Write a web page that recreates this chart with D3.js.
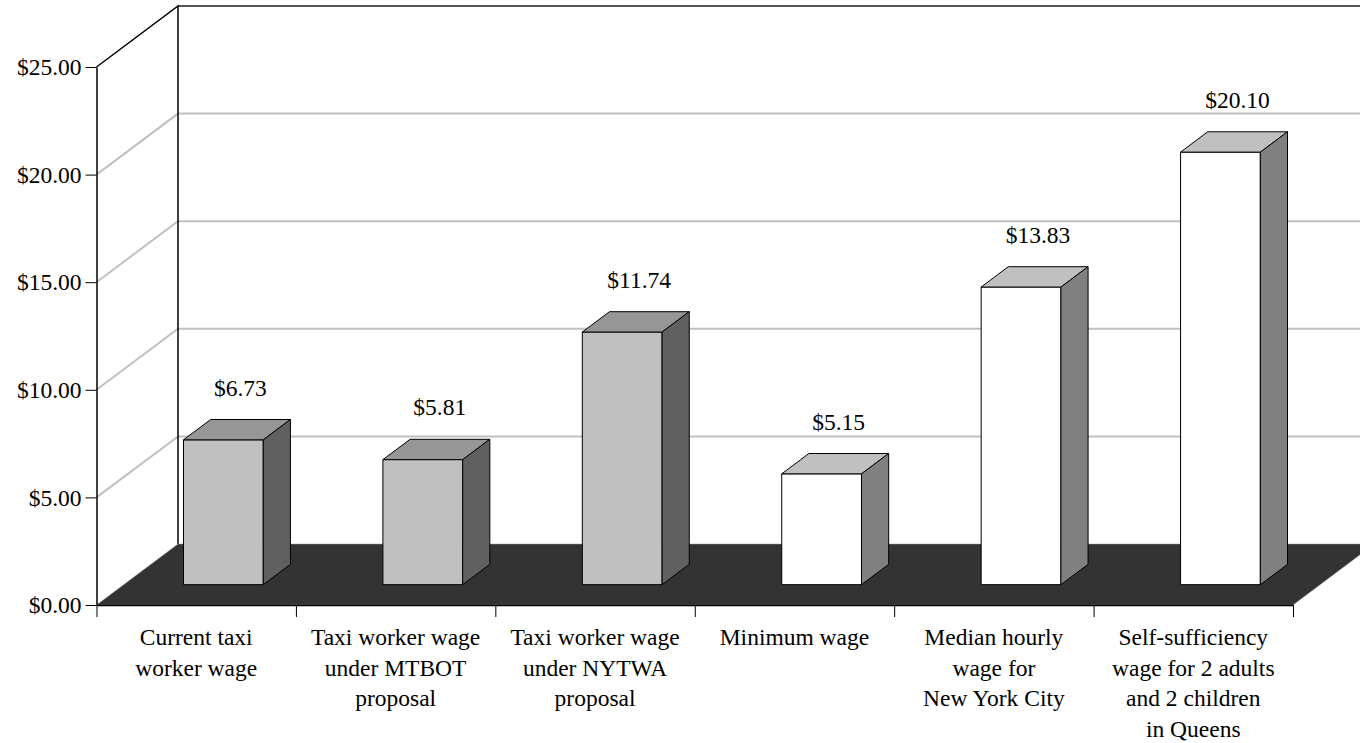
<!DOCTYPE html>
<html>
<head>
<meta charset="utf-8">
<script src="https://cdn.jsdelivr.net/npm/d3@7"></script>
<style>
  body { margin: 0; background: #fff; }
  svg { display: block; font-family: "Liberation Serif", "Times New Roman", serif; }
</style>
</head>
<body>
<div id="chart"></div>
<script>
// data
const categories = [
  ['Current taxi', 'worker wage'],
  ['Taxi worker wage', 'under MTBOT', 'proposal'],
  ['Taxi worker wage', 'under NYTWA', 'proposal'],
  ['Minimum wage'],
  ['Median hourly', 'wage for', 'New York City'],
  ['Self-sufficiency', 'wage for 2 adults', 'and 2 children', 'in Queens']
];
const wages = [6.73, 5.81, 11.74, 5.15, 13.83, 20.10];
const groups = ['taxi', 'taxi', 'taxi', 'other', 'other', 'other'];
const yTicks = [0, 5, 10, 15, 20, 25];

const width = 1360, height = 743;
const plotLeft = 96.5, plotRight = 1293, plotBottom = 605, plotTop = 67;
const depthX = 81.5, depthY = 61; // 3d wall depth
const fontSize = 23.5;

const faces = {
  taxi:  { front: '#c0c0c0', top: '#969696', side: '#606060' },
  other: { front: '#ffffff', top: '#c0c0c0', side: '#808080' }
};

const svg = d3.select('#chart').append('svg')
  .attr('width', width)
  .attr('height', height);

const x = d3.scaleBand()
  .domain(d3.range(wages.length))
  .range([plotLeft, plotRight])
  .paddingInner(0.6)
  .paddingOuter(0.3);
const y = d3.scaleLinear().domain([0, 25]).range([plotBottom, plotTop]);

// back wall + side wall gridlines
const grid = svg.append('g');
grid.selectAll('.side')
  .data(yTicks.filter(d => d > 0 && d < 25))
  .enter()
  .append('path')
  .attr('d', d => 'M' + plotLeft + ',' + y(d) + 'L' + (plotLeft + depthX) + ',' + (y(d) - depthY) + 'H' + (width + 20))
  .attr('fill', 'none')
  .attr('stroke', '#c0c0c0')
  .attr('stroke-width', 2);
// top edge of the walls
grid.append('path')
  .attr('d', 'M' + (plotLeft + depthX) + ',' + (y(25) - depthY) + 'H' + (width + 20))
  .attr('stroke', '#555')
  .attr('stroke-width', 2);
grid.append('path')
  .attr('d', 'M' + plotLeft + ',' + y(25) + 'L' + (plotLeft + depthX) + ',' + (y(25) - depthY) + 'V' + (y(0) - depthY))
  .attr('fill', 'none')
  .attr('stroke', '#000')
  .attr('stroke-width', 1.5);

// floor
svg.append('path')
  .attr('d', 'M' + plotLeft + ',' + y(0) + 'L' + (plotLeft + depthX) + ',' + (y(0) - depthY)
    + 'L' + (plotRight + depthX) + ',' + (y(0) - depthY) + 'L' + plotRight + ',' + y(0) + 'Z')
  .attr('fill', '#333333')
  .attr('stroke', '#999')
  .attr('stroke-width', 0.5);

// bars: sit in the middle third of the depth
const bx = depthX / 3, by = depthY / 3;
const bars = svg.selectAll('.bar')
  .data(wages)
  .enter()
  .append('g')
  .attr('class', 'bar')
  .attr('stroke', '#000')
  .attr('stroke-width', 1)
  .attr('stroke-linejoin', 'round');

bars.append('path') // front
  .attr('d', (d, i) => {
    const x0 = x(i) + bx, x1 = x0 + x.bandwidth();
    return 'M' + x0 + ',' + (y(0) - by) + 'V' + (y(d) - by) + 'H' + x1 + 'V' + (y(0) - by) + 'Z';
  })
  .attr('fill', (d, i) => faces[groups[i]].front);
bars.append('path') // top
  .attr('d', (d, i) => {
    const x0 = x(i) + bx, x1 = x0 + x.bandwidth(), yt = y(d) - by;
    return 'M' + x0 + ',' + yt + 'L' + (x0 + bx) + ',' + (yt - by) + 'H' + (x1 + bx) + 'L' + x1 + ',' + yt + 'Z';
  })
  .attr('fill', (d, i) => faces[groups[i]].top);
bars.append('path') // side
  .attr('d', (d, i) => {
    const x1 = x(i) + bx + x.bandwidth(), yt = y(d) - by, yb = y(0) - by;
    return 'M' + x1 + ',' + yt + 'L' + (x1 + bx) + ',' + (yt - by) + 'V' + (yb - by) + 'L' + x1 + ',' + yb + 'Z';
  })
  .attr('fill', (d, i) => faces[groups[i]].side);

// value labels
svg.selectAll('.value')
  .data(wages)
  .enter()
  .append('text')
  .attr('x', (d, i) => x(i) + bx + x.bandwidth() / 2 + 17)
  .attr('y', d => y(d) - 2 * by - 24)
  .attr('text-anchor', 'middle')
  .style('font-size', fontSize + 'px')
  .style('fill', '#000')
  .text(d => d3.format('$.2f')(d));

// y axis
const yAxis = svg.append('g')
  .attr('transform', 'translate(' + plotLeft + ',0)')
  .call(d3.axisLeft(y).tickValues(yTicks).tickFormat(d3.format('$.2f')).tickSize(11).tickSizeOuter(0).tickPadding(4));
yAxis.select('.domain').attr('stroke', '#000').attr('stroke-width', 1.5);
yAxis.selectAll('.tick line').attr('stroke', '#000');
yAxis.selectAll('text')
  .style('font-family', '"Liberation Serif", "Times New Roman", serif')
  .style('font-size', fontSize + 'px')
  .attr('dy', '0.33em')
  .style('fill', '#000');

// x axis
const xEdge = d3.scaleLinear().domain([0, wages.length]).range([plotLeft, plotRight]);
const xAxis = svg.append('g')
  .attr('transform', 'translate(0,' + plotBottom + ')')
  .call(d3.axisBottom(xEdge).tickValues(d3.range(wages.length + 1)).tickFormat('').tickSize(12).tickSizeOuter(0));
xAxis.select('.domain').attr('stroke', '#000').attr('stroke-width', 1.5);
xAxis.selectAll('.tick line').attr('stroke', '#000');

// category labels
const lineH = 30.5;
svg.selectAll('.cat')
  .data(categories)
  .enter()
  .append('text')
  .attr('text-anchor', 'middle')
  .style('font-size', fontSize + 'px')
  .style('fill', '#000')
  .each(function (d, i) {
    d3.select(this).selectAll('tspan')
      .data(d)
      .enter()
      .append('tspan')
      .attr('x', xEdge(i + 0.5))
      .attr('y', (t, j) => 645 + j * lineH)
      .text(t => t);
  });
</script>
</body>
</html>
